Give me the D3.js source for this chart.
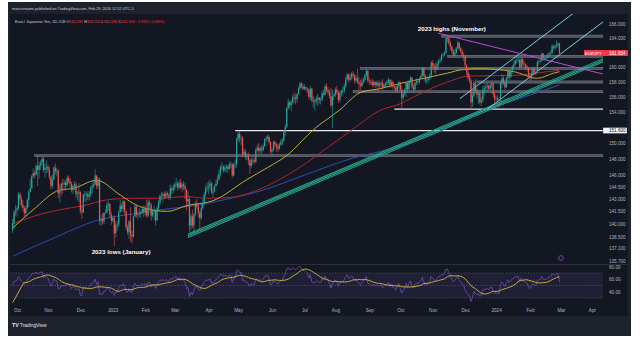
<!DOCTYPE html>
<html><head><meta charset="utf-8">
<script src="https://cdn.jsdelivr.net/npm/d3@7"></script>
<style>html,body{margin:0;padding:0;background:#fff;}svg{display:block;font-family:'Liberation Sans',Arial,sans-serif;}</style>
</head><body><svg id="c" width="640" height="339"></svg>
<script>
// ---------- DATA ----------
const startDate = '2022-09-28';
const warmupCloses = [139.6,140.1,139.4,141.1,143.7,144.0,144.9,145.3,143.6,143.2,143.0,143.0,142.8,143.0,143.4,141.1,138.9,139.4,139.2];
const closes = [
140.1,141.4,141.6,
141.9,143.6,143.0,142.3,141.9,141.3,141.9,142.9,143.9,144.3,145.8,146.2,146.0,147.1,146.6,147.2,147.5,148.0,146.6,146.9,147.0,
146.6,145.7,144.6,145.4,146.9,146.4,146.5,143.7,144.0,144.9,144.8,145.0,144.7,145.6,145.2,144.9,144.1,144.6,144.8,143.6,143.7,143.9,
141.6,141.4,143.5,143.6,143.6,143.3,143.6,144.4,144.6,144.8,145.9,144.6,145.4,140.4,140.6,140.3,141.3,141.4,142.3,142.4,141.1,140.4,
140.7,138.9,139.9,139.9,141.4,142.2,141.8,142.7,141.5,139.6,139.0,140.3,138.7,138.5,140.9,142.1,141.1,141.2,141.2,141.4,141.8,141.4,
141.9,141.0,142.6,142.3,141.0,141.4,141.5,140.4,141.9,142.6,143.4,143.4,143.6,143.3,143.7,143.5,143.3,144.3,144.1,144.4,
144.8,144.9,144.4,145.0,144.4,144.8,144.6,144.2,142.7,143.0,139.8,140.9,139.8,141.1,142.4,142.1,141.3,140.7,141.9,142.5,143.6,144.4,144.4,
144.6,144.9,143.8,143.9,144.6,144.9,145.4,146.1,146.9,147.0,146.6,146.9,147.0,146.7,147.3,147.3,145.9,147.3,147.3,150.5,
151.2,150.6,150.6,148.6,148.9,148.2,148.3,147.8,147.1,147.8,147.8,147.6,149.1,149.4,149.0,149.3,149.1,149.6,150.5,150.6,150.8,150.1,148.9,
149.1,150.1,149.8,149.5,149.3,149.8,150.1,150.3,151.4,152.1,154.5,155.3,154.9,155.3,156.0,155.9,155.7,156.4,157.2,157.8,157.4,157.1,
157.3,157.1,156.9,156.0,157.1,155.6,155.4,155.4,155.7,155.9,155.6,155.6,156.5,156.3,157.4,156.9,156.6,156.1,154.9,156.1,156.3,
157.0,156.6,155.6,156.5,156.8,156.8,157.4,158.4,159.0,158.3,158.6,159.1,158.9,158.2,158.5,158.0,157.7,157.5,158.0,158.3,158.9,159.5,158.2,
158.1,158.0,157.6,158.0,157.6,157.9,157.5,157.7,157.9,157.3,157.6,157.8,158.0,158.3,157.6,158.0,157.4,157.3,156.9,157.5,158.0,
157.0,155.9,156.4,156.9,157.9,157.0,158.0,158.6,157.3,157.0,157.9,158.1,158.0,158.5,158.8,159.9,158.9,158.2,158.3,158.5,158.9,160.6,
160.2,159.9,159.7,160.5,160.9,161.0,161.7,161.7,162.0,164.0,164.0,163.3,162.8,162.2,161.7,162.0,162.6,163.4,162.6,162.2,161.7,161.5,
160.3,159.3,158.6,158.2,155.3,156.2,157.9,156.8,156.3,156.5,155.3,155.6,157.0,157.2,157.3,157.5,157.1,157.6,157.8,156.4,155.7,
155.8,155.6,155.5,157.8,158.5,157.9,157.3,158.5,159.5,158.7,159.4,160.1,160.4,160.9,161.0,161.0,160.0,161.1,160.5,160.4,160.1,159.9,158.9,
158.5,159.2,159.8,159.3,159.3,160.7,160.8,160.9,161.9,161.3,161.3,161.3,161.7,161.9,162.0,162.9,162.7,162.9,163.1,163.267,161.954];
const highs = [
140.6,141.7,142.3,
142.2,143.9,143.7,143.4,142.9,142.2,142.2,143.1,144.2,145.4,146.0,146.8,146.5,147.3,148.4,147.6,147.8,148.3,148.2,147.4,147.8,
147.3,147.0,145.9,146.0,147.1,147.4,146.9,146.7,144.8,145.0,145.5,145.4,145.3,145.9,145.9,145.6,145.1,144.8,145.2,145.1,144.0,145.0,
143.9,142.2,143.7,144.0,143.9,144.0,144.0,144.6,145.0,145.4,146.7,145.9,145.7,145.6,141.1,141.3,141.4,141.8,142.6,142.8,142.5,141.4,
141.0,141.0,140.3,140.4,141.7,142.9,142.5,142.9,142.8,141.6,139.9,140.5,142.0,139.2,141.0,142.5,142.2,141.6,141.9,141.6,142.1,142.2,
142.2,142.9,143.0,142.9,142.5,141.8,142.2,141.6,142.2,142.9,143.6,143.9,143.8,143.9,144.0,143.9,143.7,144.8,144.6,144.8,
145.1,145.6,145.2,145.3,145.5,145.1,145.2,145.0,144.0,143.9,143.3,141.2,141.7,141.3,142.7,143.0,142.5,141.6,142.3,143.0,143.9,144.7,145.0,
145.2,145.4,145.1,144.4,144.8,145.4,145.9,146.6,147.2,147.6,147.2,147.2,147.3,147.2,147.6,147.7,147.5,147.5,147.9,150.7,
151.4,151.6,151.0,150.9,149.3,149.2,148.7,148.8,148.0,148.1,148.2,148.1,149.4,149.8,150.0,149.6,149.7,149.9,150.6,150.9,151.1,151.0,150.2,
149.4,150.3,150.3,150.0,149.9,150.1,150.5,150.6,151.6,152.4,154.7,155.8,155.5,155.6,156.3,156.6,156.4,156.5,157.4,158.0,158.0,157.8,
157.7,157.4,157.3,157.2,157.5,157.2,156.1,155.8,156.1,156.4,156.0,156.0,156.8,157.0,157.7,157.8,157.3,157.0,157.2,157.0,156.6,
157.3,157.5,156.8,156.9,157.0,157.4,157.8,158.7,159.2,159.2,159.1,159.4,159.5,159.1,158.9,159.8,158.7,158.3,158.5,158.6,159.1,159.8,159.6,
158.6,158.3,158.4,158.3,158.1,158.2,158.2,158.1,158.2,158.4,157.9,158.0,158.3,158.6,158.4,158.3,158.2,157.6,157.5,157.7,158.2,
158.0,157.5,156.7,157.2,158.1,157.8,158.3,158.8,158.6,157.7,158.1,158.5,158.4,158.7,159.1,160.0,160.0,159.1,158.6,158.8,159.2,160.9,
161.0,160.5,160.6,160.8,161.1,161.4,161.9,162.0,162.2,164.1,164.2,164.3,163.6,163.0,162.5,162.5,162.8,163.7,163.5,162.8,162.5,162.0,
161.6,160.4,159.6,159.1,158.4,156.6,158.2,158.4,157.3,157.0,156.9,156.0,157.5,157.6,157.7,157.9,157.6,157.8,158.0,157.9,156.6,
156.1,156.3,156.0,158.0,159.1,158.8,158.0,158.7,159.8,159.8,159.6,160.3,160.9,161.1,161.3,161.5,161.2,161.9,161.3,160.9,160.6,160.3,160.0,
159.2,159.9,160.0,159.9,159.6,160.9,161.1,161.2,162.0,161.9,161.6,161.7,161.9,162.1,162.3,163.2,163.1,163.1,163.7,163.5,163.311];
const lows = [
138.9,139.4,140.9,
140.9,141.7,142.3,142.0,141.5,140.9,140.9,141.7,142.0,143.8,144.3,145.6,145.5,145.9,144.6,145.5,146.6,147.0,146.3,145.7,146.2,
146.2,145.4,144.2,144.3,145.3,146.0,145.8,143.1,142.6,143.3,143.7,144.3,144.0,144.5,144.9,144.4,143.8,143.6,144.1,143.1,142.8,142.6,
141.2,140.6,141.3,142.7,142.6,142.9,142.8,143.2,143.6,144.3,144.7,144.2,144.3,139.9,139.8,139.9,140.0,141.1,141.3,141.6,140.8,139.9,
140.2,137.4,138.4,139.2,139.6,141.4,141.5,141.4,141.1,139.3,138.7,138.2,137.9,137.7,138.3,140.8,140.8,140.6,140.8,140.7,141.2,140.8,
141.0,140.7,140.8,141.8,140.4,140.8,140.5,139.8,140.4,141.5,142.3,142.9,142.6,143.0,143.0,143.1,142.9,142.9,143.6,143.7,
144.0,144.4,144.0,144.2,144.2,143.9,144.1,143.0,141.6,142.2,139.0,139.3,139.5,138.8,140.9,141.8,140.8,139.2,140.5,141.7,142.2,143.3,143.9,
143.6,144.1,143.6,143.2,143.8,144.5,144.7,145.3,145.8,146.5,146.2,146.3,146.3,146.2,146.6,146.8,145.6,145.8,146.8,146.9,
150.2,150.1,149.7,148.2,148.3,147.9,147.8,147.2,146.1,146.8,147.3,147.3,147.5,148.9,148.5,148.7,148.6,148.9,149.5,150.1,150.3,149.8,148.6,
148.4,148.9,149.4,148.9,148.8,149.1,149.6,149.7,150.2,150.9,151.9,154.3,154.5,154.1,155.0,155.2,155.0,155.3,156.3,156.9,157.1,156.9,
156.9,156.8,156.5,155.7,155.5,155.3,154.6,154.2,155.0,154.8,155.1,155.0,155.5,156.0,156.2,156.6,156.3,155.8,154.6,151.9,155.6,
156.0,156.3,155.2,155.3,156.0,156.2,156.5,157.2,158.2,157.9,158.1,158.3,158.4,157.8,157.9,157.8,156.9,157.0,157.3,157.7,158.0,158.7,157.9,
157.6,157.6,157.3,157.4,157.2,157.3,156.7,157.2,157.3,157.0,157.1,157.2,157.5,157.6,157.2,157.3,157.1,156.9,156.6,156.7,157.1,
156.8,154.4,155.6,156.1,156.0,156.6,157.0,157.8,157.1,156.5,156.9,157.6,157.6,157.8,158.3,158.7,158.6,157.9,157.7,157.9,158.2,158.5,
159.8,159.3,159.1,159.6,160.1,160.6,160.8,161.3,161.5,161.8,163.4,163.0,162.4,161.9,161.4,161.5,161.8,162.5,162.3,161.9,161.4,160.9,
160.0,158.9,158.2,157.8,154.3,154.7,156.0,156.5,155.8,155.1,155.0,154.8,155.3,156.3,156.7,156.8,156.9,156.9,157.2,156.0,155.2,
155.4,154.9,154.6,155.4,157.2,157.6,157.0,157.2,158.2,158.3,158.6,159.1,159.8,160.2,160.5,160.6,159.7,159.9,160.1,159.9,159.6,159.4,158.5,
158.1,158.2,158.9,159.0,158.9,159.2,160.3,160.6,160.8,160.9,160.9,160.9,161.2,161.4,161.5,161.8,162.4,162.3,162.6,162.7,161.68];

// moving averages: [bar index, price]
const sma50 = [[0,139.5],[14,141.7],[32,144.1],[41,144.3],[57,145.3],[73,143.5],[86,142.1],[105,141.5],[118,142.2],[136,142.8],[159,145.4],[173,146.9],[186,148.4],[204,151.7],[222,154.3],[236,156.6],[249,157.1],[263,157.8],[272,158.2],[295,159.2],[306,159.7],[317,159.8],[340,159.4],[356,158.5],[367,159.2],[371,159.4]];
const sma100 = [[0,140.0],[14,140.9],[32,141.7],[48,142.2],[64,142.9],[82,143.1],[98,143.1],[118,143.3],[132,143.1],[148,143.2],[170,144.4],[193,146.7],[215,149.6],[231,151.8],[249,154.2],[263,155.1],[272,156.0],[295,158.0],[310,158.8],[340,158.9],[363,159.4],[371,159.6]];
const sma200 = [[0,136.2],[25,138.1],[59,140.5],[82,141.2],[105,141.8],[127,142.3],[148,143.1],[170,144.1],[193,145.6],[215,147.1],[231,148.1],[249,148.9],[283,150.9],[317,154.0],[344,155.8],[371,157.6]];

// horizontal levels drawn on the chart: price and first bar
const levelPrices = [164.3,161.5,159.85,158.0,156.7,154.4,151.6,148.4];
const levelStart  = [291,295,236,315,231,259,151,15];
// trend lines [bar0, price0, bar1, price1]
const purpleLine = [288.6,164.72,400.5,159.08];
const greenBand  = [119,138.6,400.5,160.95];
const cyanLines  = [[322.5,154.45,400.5,166.3],[303.5,155.78,381.5,167.7]];

const priceTicks = [166,164,160,158,156,154,150,148,146,144.5,143,141.5,140,138.5,137.1,135.7];
const rsiTicks = [80,60,40];
const monthLabels = ['Oct','Nov','Dec','2023','Feb','Mar','Apr','May','Jun','Jul','Aug','Sep','Oct','Nov','Dec','2024','Feb','Mar','Apr'];
const lastPrice = 161.954;
const header1 = 'marcniroams published on TradingView.com, Feb 29, 2024 12:52 UTC-5';
const headerName = 'Euro / Japanese Yen, 1D, ICE';
const ohlcLabels = ['O','H','L','C'];
const ohlcValues = ['163.267','163.311','161.680','161.954'];
const changeText = '\u22121.313 (\u22120.80%)';

// ---------- DRAW ----------
const svg = d3.select('#c');
const PL=10, PR=603, PT=14, PB=264, RT=265, RB=305;
svg.append('rect').attr('x',8).attr('y',2).attr('width',623).attr('height',334).attr('fill','#1e222d');
svg.append('rect').attr('x',PL).attr('y',PT).attr('width',628-PL).attr('height',316-PT).attr('fill','#131722');

const defs = svg.append('defs');
defs.append('clipPath').attr('id','main').append('rect').attr('x',PL).attr('y',PT).attr('width',PR-PL).attr('height',PB-PT);
defs.append('clipPath').attr('id','rsi').append('rect').attr('x',PL).attr('y',RT).attr('width',PR-PL).attr('height',RB-RT);

const x = d3.scaleLinear().domain([0,393]).range([12.58,591.9]);
const y = d3.scaleLog().domain([135.3,167.43]).range([PB,PT]);
const yr = d3.scaleLinear().domain([20,80]).range([304.3,266.7]);

function weekdays(start,n){const out=[];const d=new Date(start+'T12:00:00Z');while(out.length<n){const w=d.getUTCDay();if(w!==0&&w!==6)out.push(new Date(d));d.setUTCDate(d.getUTCDate()+1);}return out;}
const dates = weekdays(startDate,394);
const monthIdx = [];
for(let i=1;i<dates.length;i++) if(dates[i].getUTCMonth()!==dates[i-1].getUTCMonth()) monthIdx.push(i);

const bars = closes.map((c,i)=>{
  const o = i===0 ? warmupCloses[warmupCloses.length-1] : closes[i-1];
  return {i,o,c,h:Math.max(highs[i],o,c),l:Math.min(lows[i],o,c)};
});

const main = svg.append('g').attr('clip-path','url(#main)');

// levels
levelPrices.forEach((p,k)=>{
  const yy=y(p), x0=x(levelStart[k]);
  if(p===151.6 || p===154.4){
    main.append('line').attr('x1',x0).attr('x2',PR).attr('y1',yy).attr('y2',yy).attr('stroke','#e8eaf0').attr('stroke-width',1.2);
  } else {
    main.append('rect').attr('x',x0).attr('y',yy-1.1).attr('width',PR-x0).attr('height',2.2).attr('fill','#50535e').attr('stroke','#8e919b').attr('stroke-width',0.4);
  }
});

// moving averages
const line = d3.line().x(d=>x(d[0])).y(d=>y(d[1])).curve(d3.curveMonotoneX);
main.append('path').attr('d',line(sma200)).attr('fill','none').attr('stroke','#2b4fb8').attr('stroke-width',1);
main.append('path').attr('d',line(sma100)).attr('fill','none').attr('stroke','#b0262f').attr('stroke-width',1);
main.append('path').attr('d',line(sma50)).attr('fill','none').attr('stroke','#c1ad35').attr('stroke-width',1);

// green band
[[0,'#1e9c84',1.2],[1.6,'#3cc7a5',0.9],[3.2,'#1e9c84',1.2]].forEach(([off,col,w])=>{
  main.append('line').attr('x1',x(greenBand[0])).attr('y1',y(greenBand[1])+off-1.6)
    .attr('x2',x(greenBand[2])).attr('y2',y(greenBand[3])+off-1.6).attr('stroke',col).attr('stroke-width',w);
});
cyanLines.forEach(l=>{
  main.append('line').attr('x1',x(l[0])).attr('y1',y(l[1])).attr('x2',x(l[2])).attr('y2',y(l[3])).attr('stroke','#7fe3ee').attr('stroke-width',0.9);
});
main.append('line').attr('x1',x(purpleLine[0])).attr('y1',y(purpleLine[1])).attr('x2',x(purpleLine[2])).attr('y2',y(purpleLine[3])).attr('stroke','#c04ad6').attr('stroke-width',1);

// candles
const cg = main.append('g');
bars.forEach(b=>{
  const col = b.c>=b.o ? '#26a69a' : '#ef5350';
  cg.append('line').attr('x1',x(b.i)).attr('x2',x(b.i)).attr('y1',y(b.h)).attr('y2',y(b.l)).attr('stroke',col).attr('stroke-width',0.6);
  const yt=y(Math.max(b.o,b.c)), yb=y(Math.min(b.o,b.c));
  cg.append('rect').attr('x',x(b.i)-0.6).attr('width',1.2).attr('y',yt).attr('height',Math.max(0.6,yb-yt)).attr('fill',col);
});

// annotations
main.append('text').attr('x',x(298)).attr('y',y(165.0)).attr('text-anchor','middle').attr('fill','#ffffff').attr('font-size',6.2).attr('font-weight','bold').text('2023 highs (November)');
main.append('text').attr('x',x(73.6)).attr('y',y(136.5)).attr('text-anchor','middle').attr('fill','#ffffff').attr('font-size',6.2).attr('font-weight','bold').text('2023 lows (January)');
main.append('circle').attr('cx',x(372)).attr('cy',PB-6).attr('r',2.4).attr('fill','none').attr('stroke','#9c4fd6').attr('stroke-width',0.7);

// price axis
const ya = svg.append('g').attr('transform',`translate(${PR+3},0)`).call(d3.axisRight(y).tickValues(priceTicks).tickFormat(d3.format('.3f')).tickSize(0));
ya.select('.domain').remove();
ya.selectAll('text').attr('fill','#b2b5be').attr('font-size',4.6).attr('font-family','Liberation Sans, Arial, sans-serif').attr('x',3);

// last price tags
const yl = y(lastPrice);
svg.append('rect').attr('x',584).attr('y',yl-3).attr('width',19).attr('height',6).attr('fill','#f23645');
svg.append('text').attr('x',593.5).attr('y',yl+1.6).attr('text-anchor','middle').attr('fill','#fff').attr('font-size',4.3).text('EURJPY');
svg.append('rect').attr('x',PR).attr('y',yl-3).attr('width',25).attr('height',6).attr('fill','#f23645');
svg.append('text').attr('x',PR+6).attr('y',yl+1.6).attr('fill','#fff').attr('font-size',4.6).text(lastPrice.toFixed(3));
const y16 = y(151.6);
svg.append('rect').attr('x',PR).attr('y',y16-3).attr('width',24).attr('height',6).attr('fill','#f0f3fa').attr('stroke','#131722').attr('stroke-width',0.3);
svg.append('text').attr('x',PR+6).attr('y',y16+1.6).attr('fill','#131722').attr('font-size',4.6).text('151.600');

// RSI pane
svg.append('line').attr('x1',PL).attr('x2',628).attr('y1',RT-0.5).attr('y2',RT-0.5).attr('stroke','#2a2e39').attr('stroke-width',1);
svg.append('rect').attr('x',PL).attr('width',PR-PL).attr('y',yr(70)).attr('height',yr(30)-yr(70)).attr('fill','rgba(126,87,194,0.12)');
[70,50,30].forEach(v=>svg.append('line').attr('x1',PL).attr('x2',PR).attr('y1',yr(v)).attr('y2',yr(v)).attr('stroke','#787b86').attr('stroke-width',0.5).attr('stroke-dasharray','1.2,1.6'));
const all = warmupCloses.concat(closes);
const rsi = new Array(all.length).fill(null);
let ag=0, al=0;
for(let k=1;k<=14;k++){const ch=all[k]-all[k-1]; if(ch>0) ag+=ch; else al-=ch;}
ag/=14; al/=14; rsi[14]=100-100/(1+ag/al);
for(let k=15;k<all.length;k++){const ch=all[k]-all[k-1]; ag=(ag*13+Math.max(ch,0))/14; al=(al*13+Math.max(-ch,0))/14; rsi[k]= al===0?100:100-100/(1+ag/al);}
const off = warmupCloses.length;
const rsiPts=[], rsiMa=[];
for(let k=off;k<all.length;k++){
  rsiPts.push([k-off,rsi[k]]);
  let s=0; for(let j=k-13;j<=k;j++) s+=rsi[j];
  rsiMa.push([k-off,s/14]);
}
const rg = svg.append('g').attr('clip-path','url(#rsi)');
const rl = d3.line().x(d=>x(d[0])).y(d=>yr(d[1]));
rg.append('path').attr('d',rl(rsiPts)).attr('fill','none').attr('stroke','#7e57c2').attr('stroke-width',0.7);
rg.append('path').attr('d',rl.curve(d3.curveBasis)(rsiMa)).attr('fill','none').attr('stroke','#d9bf3c').attr('stroke-width',0.9);
const ra = svg.append('g').attr('transform',`translate(${PR+3},0)`).call(d3.axisRight(yr).tickValues(rsiTicks).tickFormat(d3.format('.2f')).tickSize(0));
ra.select('.domain').remove();
ra.selectAll('text').attr('fill','#b2b5be').attr('font-size',4.6).attr('font-family','Liberation Sans, Arial, sans-serif').attr('x',3);

// time axis
const xa = svg.append('g').attr('transform','translate(0,306)').call(d3.axisBottom(x).tickValues(monthIdx.slice(0,monthLabels.length)).tickFormat((d,k)=>monthLabels[k]).tickSize(0));
xa.select('.domain').remove();
xa.selectAll('text').attr('fill','#b2b5be').attr('font-size',4.6).attr('font-family','Liberation Sans, Arial, sans-serif');

// header
svg.append('text').attr('x',12).attr('y',9.5).attr('fill','#d1d4dc').attr('font-size',3.8).text(header1);
const h2 = svg.append('text').attr('x',15).attr('y',23).attr('font-size',3.8).attr('fill','#d1d4dc');
h2.append('tspan').text(headerName+'  ');
ohlcLabels.forEach((l,k)=>{h2.append('tspan').attr('fill','#d1d4dc').text(l); h2.append('tspan').attr('fill','#f23645').text(ohlcValues[k]+' ');});
h2.append('tspan').attr('fill','#f23645').text(changeText);

// footer
svg.append('text').attr('x',12).attr('y',327).attr('fill','#e0e3eb').attr('font-size',5.2).attr('font-weight','bold').text('TV');
svg.append('text').attr('x',20).attr('y',327).attr('fill','#e0e3eb').attr('font-size',4.8).text('TradingView');
</script></body></html>
